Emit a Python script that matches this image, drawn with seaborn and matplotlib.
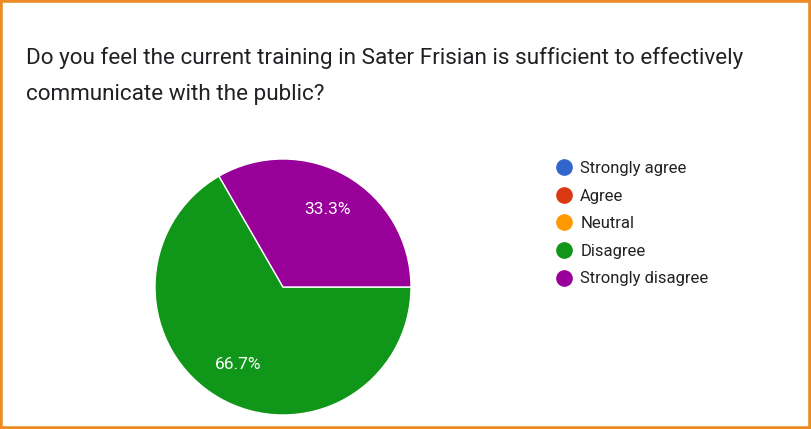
import matplotlib
matplotlib.use("Agg")
import matplotlib.pyplot as plt
from matplotlib.lines import Line2D
from matplotlib.patches import Rectangle
import seaborn as sns

# Data
categories = ["Strongly agree", "Agree", "Neutral", "Disagree", "Strongly disagree"]
counts = [0, 0, 0, 2, 1]
colors = ["#3366CC", "#DC3912", "#FF9900", "#109618", "#990099"]
title = ("Do you feel the current training in Sater Frisian is sufficient to effectively\n"
         "communicate with the public?")

sns.set_theme(style="white")
plt.rcParams["font.family"] = ["Roboto", "DejaVu Sans"]

W, H = 811, 429
fig = plt.figure(figsize=(W / 100, H / 100), dpi=100)

# pie axes placed around centre (283, 287) px, radius ~128 px
cx, cy, r = 283, 287, 128
ax = fig.add_axes([(cx - r) / W, (H - cy - r) / H, 2 * r / W, 2 * r / H])

def pct(p):
    return f"{p:.1f}%" if p > 0 else ""

wedges, texts, autotexts = ax.pie(
    counts, colors=colors, startangle=0, counterclock=False,
    autopct=pct, pctdistance=0.70,
    wedgeprops=dict(edgecolor="white", linewidth=1),
    textprops=dict(color="white", fontsize=12.5),
)
ax.set_xlim(-1, 1)
ax.set_ylim(-1, 1)
ax.set_aspect("equal")
ax.axis("off")

# title
fig.text(26 / W, 1 - 47 / H, title, fontsize=16.2, color="#202124",
         va="top", ha="left", linespacing=1.92)

# legend
handles = [Line2D([0], [0], marker="o", linestyle="", markersize=11,
                  markerfacecolor=c, markeredgecolor=c) for c in colors]
fig.legend(handles, categories, loc="upper left",
           bbox_to_anchor=(546 / W, 1 - 153 / H), frameon=False,
           fontsize=12, labelspacing=0.75, handletextpad=0.45,
           handlelength=1.1, labelcolor="#222222", borderpad=0)

# orange frame
fig.patches.append(Rectangle((0, 0), 1, 1, transform=fig.transFigure,
                             fill=False, edgecolor="#EC8A24", linewidth=4))

fig.savefig("out.png", dpi=100)
